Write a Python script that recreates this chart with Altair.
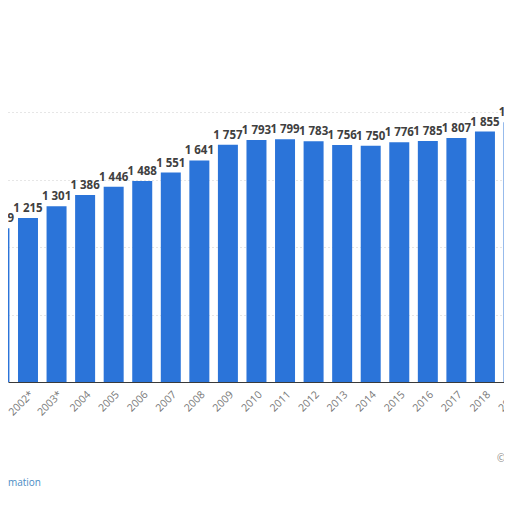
import altair as alt
import pandas as pd

years = list(range(2001, 2020))
year_labels = ["2001*", "2002*", "2003*", "2004", "2005", "2006", "2007", "2008",
               "2009", "2010", "2011", "2012", "2013", "2014", "2015", "2016",
               "2017", "2018", "2019"]
values = [1139, 1215, 1301, 1386, 1446, 1488, 1551, 1641, 1757, 1793, 1799,
          1783, 1756, 1750, 1776, 1785, 1807, 1855, 1925]
grid_values = [500, 1000, 1500, 2000]

df = pd.DataFrame({
    "year": years,
    "value": values,
    "label": [f"{v:,}".replace(",", " ") for v in values],
})

label_expr = "[" + ",".join(f"'{s}'" for s in year_labels) + "][datum.value - 2001]"

x_scale = alt.Scale(domain=[2001.3, 2019.017], nice=False, zero=False)
y_scale = alt.Scale(domain=[0, 2000], nice=False)

x_axis = alt.Axis(values=years, labelExpr=label_expr, labelAngle=-45,
                  labelAlign="right", labelBaseline="top",
                  labelPadding=7, ticks=False, grid=False,
                  labelOverlap=False, labelBound=False, title=None,
                  domainColor="#3a3a3a", labelColor="#777777",
                  labelFontSize=10.5, labelFont="Open Sans")
y_axis = alt.Axis(values=grid_values, labels=False, ticks=False, title=None,
                  domain=False, grid=True, gridColor="#cccccc",
                  gridDash=[1, 3])

base = alt.Chart(df)

bars = base.transform_calculate(
    x0="datum.year - 0.35", x1="datum.year + 0.35"
).mark_bar(color="#2b74d9").encode(
    x=alt.X("x0:Q", scale=x_scale, axis=x_axis, title=None),
    x2="x1:Q",
    y=alt.Y("value:Q", scale=y_scale, axis=y_axis, title=None),
    y2=alt.datum(0),
)

texts = base.mark_text(baseline="bottom", dy=-4, fontSize=11.5,
                       fontWeight="bold", font="Open Sans",
                       color="#404040").encode(
    x=alt.X("year:Q", scale=x_scale, axis=x_axis, title=None),
    y=alt.Y("value:Q", scale=y_scale, axis=y_axis, title=None),
    text="label:N",
)

notes = pd.DataFrame({"t": ["Additional Information"]})
info = alt.Chart(notes).mark_text(align="right", baseline="alphabetic",
                                  fontSize=10, font="Open Sans",
                                  color="#4a8cc4").encode(
    x=alt.value(33), y=alt.value(374), text="t:N")

copy = pd.DataFrame({"t": ["© Statista 2021"]})
cpy = alt.Chart(copy).mark_text(align="left", baseline="alphabetic",
                                fontSize=10, font="Open Sans",
                                color="#888888").encode(
    x=alt.value(489), y=alt.value(350), text="t:N")

chart = alt.layer(bars, texts, info, cpy).properties(
    width=506, height=270,
    autosize=alt.AutoSizeParams(type="none"),
    padding={"left": 0, "top": 104, "right": -10, "bottom": 114},
    background="white",
).configure_view(stroke=None)

chart.save("out.html", embed_options={"renderer": "svg", "actions": False})
